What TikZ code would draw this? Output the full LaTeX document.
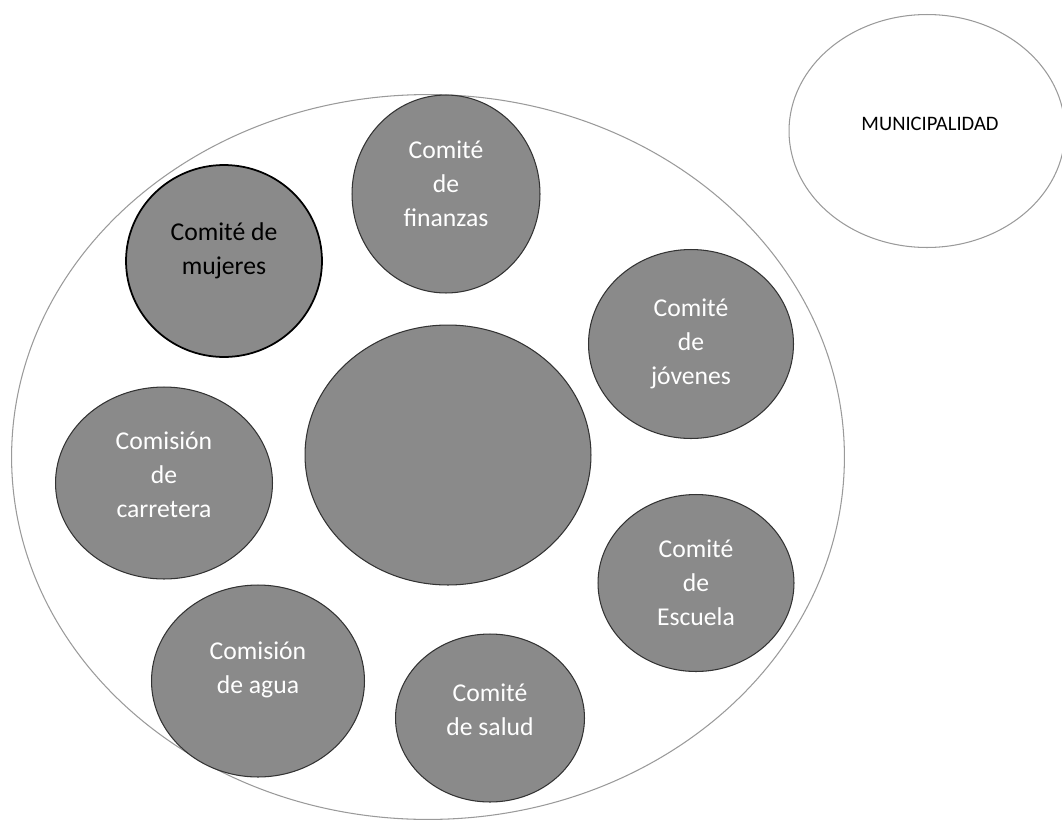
\documentclass[tikz,border=0pt]{standalone}
\usepackage{fontspec}
\setmainfont{Carlito}
\usetikzlibrary{shapes.geometric}
\definecolor{comgray}{HTML}{8A8A8A}
\definecolor{edgegray}{HTML}{9A9A9A}
\begin{document}
\begin{tikzpicture}[x=0.02cm,y=-0.02cm,line join=round,
  comite/.style={ellipse,draw=black!80,line width=0.6pt,fill=comgray,inner sep=0pt,align=center,text=white,font=\fontsize{14.6}{19.4}\selectfont},
  outer/.style={ellipse,draw=edgegray,line width=0.6pt,inner sep=0pt}]
\useasboundingbox (0,0) rectangle (1062,825);
\node[outer,minimum width=16.66cm,minimum height=14.5cm] (comunidad) at (428,457) {};
\node[outer,minimum width=5.52cm,minimum height=4.66cm] (muni) at (927,131) {};
\node[font=\fontsize{11.7}{14}\selectfont] (munitext) at (930,124) {MUNICIPALIDAD};
\node[comite,minimum width=5.72cm,minimum height=5.2cm] (centro) at (448,455) {};
\node[comite,text depth=0.4cm,minimum width=3.76cm,minimum height=3.96cm] (finanzas) at (446,194) {Comité\\de\\finanzas};
\node[comite,draw=black,line width=1pt,text=black,text depth=0.5cm,minimum width=3.92cm,minimum height=3.84cm] (mujeres) at (224,261) {Comité de\\mujeres};
\node[comite,minimum width=4.1cm,minimum height=3.78cm] (jovenes) at (691,344) {Comité\\de\\jóvenes};
\node[comite,text depth=0.32cm,minimum width=4.34cm,minimum height=3.84cm] (carretera) at (164,483) {Comisión\\de\\carretera};
\node[comite,minimum width=3.92cm,minimum height=3.54cm] (escuela) at (696,583) {Comité\\de\\Escuela};
\node[comite,text depth=0.54cm,minimum width=4.26cm,minimum height=3.84cm] (agua) at (258,681) {Comisión\\de agua};
\node[comite,text depth=0.32cm,minimum width=3.78cm,minimum height=3.36cm] (salud) at (490,718) {Comité\\de salud};
\end{tikzpicture}
\end{document}
